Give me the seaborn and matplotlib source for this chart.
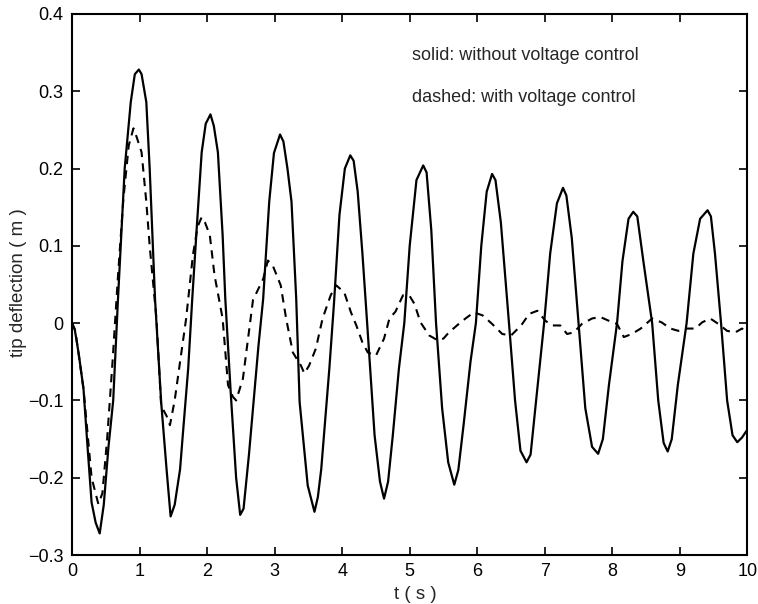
import matplotlib
matplotlib.use("Agg")
import matplotlib.pyplot as plt
import seaborn as sns
import pandas as pd

# ---- data ----
solid_t = [0.00, 0.04, 0.10, 0.17, 0.23, 0.29, 0.35, 0.41, 0.47, 0.54, 0.61, 0.68, 0.78, 0.87, 0.93, 0.99,
           1.03, 1.10, 1.15, 1.23, 1.32, 1.40, 1.46, 1.52, 1.60, 1.64, 1.72, 1.78, 1.84, 1.92, 1.98, 2.05,
           2.10, 2.16, 2.23, 2.27, 2.35, 2.43, 2.49, 2.54, 2.62, 2.70, 2.76, 2.83, 2.92, 2.99, 3.08,
           3.13, 3.19, 3.25, 3.32, 3.37, 3.49, 3.59, 3.64, 3.69, 3.81, 3.88, 3.96, 4.04, 4.12,
           4.17, 4.23, 4.30, 4.37, 4.48, 4.56, 4.62, 4.68, 4.75, 4.84, 4.92, 5.00, 5.10, 5.20,
           5.25, 5.32, 5.39, 5.48, 5.57, 5.66, 5.72, 5.80, 5.90, 5.98, 6.06, 6.14, 6.22,
           6.27, 6.35, 6.47, 6.56, 6.64, 6.73, 6.79, 6.86, 6.99, 7.08, 7.18, 7.27,
           7.32, 7.40, 7.50, 7.60, 7.70, 7.79, 7.86, 7.95, 8.07, 8.15, 8.24, 8.31,
           8.37, 8.46, 8.59, 8.68, 8.76, 8.82, 8.88, 8.97, 9.10, 9.20, 9.30, 9.41,
           9.46, 9.52, 9.61, 9.70, 9.78, 9.85, 9.92, 9.99]
solid_v = [0.000, -0.008, -0.040, -0.085, -0.160, -0.232, -0.258, -0.272, -0.235, -0.160, -0.100, 0.030, 0.200, 0.286, 0.322, 0.328,
           0.322, 0.286, 0.200, 0.030, -0.102, -0.189, -0.250, -0.235, -0.189, -0.145, -0.059, 0.031, 0.114, 0.221, 0.258, 0.270,
           0.255, 0.221, 0.114, 0.031, -0.090, -0.200, -0.248, -0.240, -0.170, -0.090, -0.030, 0.031, 0.157, 0.220, 0.244,
           0.235, 0.200, 0.157, 0.031, -0.102, -0.210, -0.244, -0.225, -0.189, -0.059, 0.027, 0.140, 0.200, 0.217,
           0.210, 0.170, 0.090, 0.000, -0.145, -0.205, -0.227, -0.205, -0.145, -0.059, 0.000, 0.100, 0.185, 0.204,
           0.195, 0.120, 0.000, -0.110, -0.180, -0.209, -0.190, -0.130, -0.050, 0.000, 0.100, 0.170, 0.193,
           0.185, 0.130, 0.000, -0.100, -0.165, -0.180, -0.170, -0.110, 0.000, 0.090, 0.155, 0.175,
           0.165, 0.110, 0.000, -0.110, -0.160, -0.169, -0.150, -0.080, 0.000, 0.080, 0.135, 0.144,
           0.138, 0.080, 0.000, -0.100, -0.155, -0.166, -0.150, -0.080, 0.000, 0.090, 0.135, 0.146,
           0.138, 0.090, 0.000, -0.100, -0.145, -0.154, -0.148, -0.139]

dashed_t = [0.00, 0.05, 0.17, 0.29, 0.39, 0.45, 0.52, 0.60, 0.68, 0.76, 0.84, 0.91, 0.96, 1.03, 1.10, 1.15,
            1.25, 1.32, 1.40, 1.45, 1.52, 1.60, 1.69, 1.79, 1.86, 1.92, 1.97, 2.04, 2.11, 2.23, 2.31, 2.38,
            2.43, 2.53, 2.68, 2.83, 2.90, 2.97, 3.09, 3.17, 3.27, 3.39, 3.44, 3.51, 3.61, 3.71, 3.83,
            3.91, 4.03, 4.13, 4.21, 4.30, 4.38, 4.50, 4.62, 4.70, 4.79, 4.90, 5.00, 5.07, 5.16, 5.29,
            5.41, 5.50, 5.58, 5.78, 5.95, 6.08, 6.22, 6.37, 6.50, 6.65, 6.77, 6.89, 7.01, 7.11, 7.23,
            7.33, 7.43, 7.55, 7.70, 7.82, 7.95, 8.07, 8.17, 8.29, 8.42, 8.59, 8.73, 8.86, 8.98, 9.10,
            9.23, 9.33, 9.45, 9.57, 9.70, 9.82, 9.92, 10.00]
dashed_v = [0.000, -0.010, -0.085, -0.200, -0.234, -0.220, -0.150, -0.050, 0.060, 0.160, 0.230, 0.252, 0.240, 0.221, 0.157, 0.100,
            0.006, -0.107, -0.120, -0.132, -0.100, -0.050, 0.006, 0.088, 0.125, 0.137, 0.130, 0.114, 0.062, 0.006, -0.080, -0.095,
            -0.100, -0.072, 0.030, 0.057, 0.081, 0.075, 0.049, 0.006, -0.038, -0.055, -0.065, -0.055, -0.033, 0.006, 0.036,
            0.049, 0.040, 0.014, -0.003, -0.025, -0.038, -0.042, -0.020, 0.006, 0.015, 0.036, 0.035, 0.025, 0.001, -0.016,
            -0.022, -0.020, -0.012, 0.003, 0.014, 0.010, -0.001, -0.014, -0.016, -0.003, 0.012, 0.016, 0.003, -0.003, -0.003,
            -0.014, -0.012, -0.001, 0.006, 0.008, 0.003, -0.001, -0.018, -0.014, -0.007, 0.006, 0.001, -0.007, -0.010, -0.007,
            -0.007, 0.001, 0.006, -0.001, -0.010, -0.012, -0.007, -0.012]

x_ticks = [0, 1, 2, 3, 4, 5, 6, 7, 8, 9, 10]
y_ticks = [-0.3, -0.2, -0.1, 0, 0.1, 0.2, 0.3, 0.4]
y_tick_labels = ["\u22120.3", "\u22120.2", "\u22120.1", "0", "0.1", "0.2", "0.3", "0.4"]

sns.set_style("ticks")
plt.rcParams['font.family'] = ['Liberation Sans', 'DejaVu Sans']

df_solid = pd.DataFrame({"t": solid_t, "v": solid_v})
df_dashed = pd.DataFrame({"t": dashed_t, "v": dashed_v})

fig = plt.figure(figsize=(7.58, 6.04), dpi=100)
ax = fig.add_axes([0.095, 0.081, 0.891, 0.896])

sns.lineplot(data=df_solid, x="t", y="v", ax=ax, color="black", linewidth=1.6,
             estimator=None, sort=False)
sns.lineplot(data=df_dashed, x="t", y="v", ax=ax, color="black", linewidth=1.5,
             estimator=None, sort=False, linestyle=(0, (4, 3)))

ax.set_xlim(0, 10)
ax.set_ylim(-0.3, 0.4)
ax.set_xticks(x_ticks)
ax.set_xticklabels([str(x) for x in x_ticks])
ax.set_yticks(y_ticks)
ax.set_yticklabels(y_tick_labels)
ax.tick_params(direction="in", length=6, width=1.2, top=True, right=True,
               labelsize=13, pad=6, colors="black")
for sp in ax.spines.values():
    sp.set_visible(True)
    sp.set_linewidth(1.5)
    sp.set_color("black")

ax.set_xlabel("t ( s )", fontsize=13.5, va="top")
ax.set_ylabel("tip deflection ( m )", fontsize=13.5)
ax.xaxis.set_label_coords(0.508, -0.058)
ax.yaxis.set_label_coords(-0.066, 0.503)

ax.text(0.504, 0.924, "solid: without voltage control", transform=ax.transAxes,
        fontsize=13, va="center", ha="left")
ax.text(0.504, 0.845, "dashed: with voltage control", transform=ax.transAxes,
        fontsize=13, va="center", ha="left")

fig.savefig("out.png", dpi=100, facecolor="white")
